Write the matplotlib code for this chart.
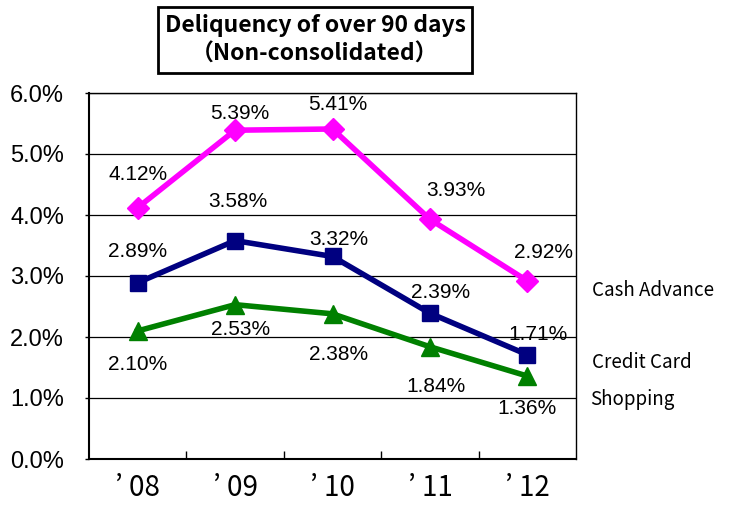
import numpy as np
import matplotlib.pyplot as plt
from matplotlib.ticker import FixedLocator

# data
years = ["\u2019 08", "\u2019 09", "\u2019 10", "\u2019 11", "\u2019 12"]
cash_advance = [4.12, 5.39, 5.41, 3.93, 2.92]
credit_card = [2.89, 3.58, 3.32, 2.39, 1.71]
shopping = [2.10, 2.53, 2.38, 1.84, 1.36]

# label offsets in pixels (dx, dy)
off_cash = [(0, 33), (5, 17), (5, 24), (26, 29), (16, 28)]
off_credit = [(0, 31), (3, 39), (6, 17), (11, 21), (11, 20)]
off_shop = [(0, -34), (5, -25), (6, -41), (6, -40), (0, -32)]

cjk = ['Noto Sans CJK JP', 'DejaVu Sans']
arial = ['Liberation Sans', 'DejaVu Sans']

fig = plt.figure(figsize=(7.35, 5.14), dpi=100)
ax = fig.add_axes([89 / 735, 55 / 514, 487 / 735, 366 / 514])

x = np.arange(len(years))

series = [
    (cash_advance, '#FF00FF', 'D', 11, off_cash),
    (credit_card, '#000080', 's', 12, off_credit),
    (shopping, '#008000', '^', 13, off_shop),
]

for vals, col, mk, ms, offs in series:
    ax.plot(x, vals, color=col, lw=4, marker=mk, markersize=ms, zorder=3)
    for i, v in enumerate(vals):
        ax.annotate("%.2f%%" % v, (x[i], v), xytext=offs[i],
                    textcoords='offset pixels', ha='center', va='center',
                    fontsize=15, family=arial, zorder=4)

ax.set_xlim(-0.5, 4.5)
ax.set_ylim(0, 6)
ax.set_yticks(np.arange(0, 7, 1))
ax.set_yticklabels(["%.1f%%" % t for t in np.arange(0, 7, 1)], family=arial, fontsize=17)
ax.yaxis.grid(True, color='black', lw=0.9)
ax.set_axisbelow(True)
ax.tick_params(axis='y', direction='out', length=3, width=1, pad=15)

ax.set_xticks(x)
ax.set_xticklabels(years, family=cjk, fontsize=20)
ax.tick_params(axis='x', which='major', length=0, pad=10)
ax.xaxis.set_minor_locator(FixedLocator(np.arange(0.5, 4.5, 1)))
ax.tick_params(axis='x', which='minor', direction='in', length=6, width=1)

for s in ax.spines.values():
    s.set_color('black')
    s.set_linewidth(1)
ax.spines['left'].set_linewidth(1.5)
ax.spines['bottom'].set_linewidth(1.5)

# title box
fig.text(315 / 735, 1 - 40 / 514, "Deliquency of over 90 days\n\uff08Non-consolidated\uff09",
         ha='center', va='center', fontsize=16.5, fontweight='bold', family=cjk,
         linespacing=1.35,
         bbox=dict(boxstyle='square,pad=0.3', fc='white', ec='black', lw=2))

# series names
fig.text(592 / 735, 1 - 290 / 514, "Cash Advance", family=cjk, fontsize=13.5, va='center')
fig.text(592 / 735, 1 - 362 / 514, "Credit Card", family=cjk, fontsize=13.5, va='center')
fig.text(590 / 735, 1 - 400 / 514, "Shopping", family=cjk, fontsize=13.5, va='center')

fig.savefig("out.png", dpi=100)
